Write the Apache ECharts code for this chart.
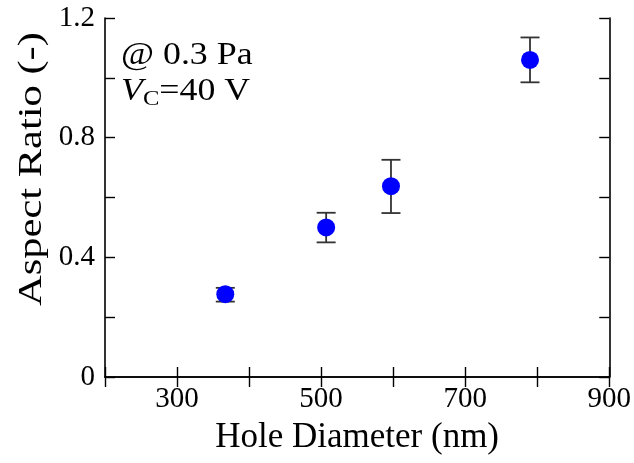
<!DOCTYPE html>
<html>
<head>
<meta charset="utf-8">
<script src="https://cdn.jsdelivr.net/npm/echarts@6/dist/echarts.min.js"></script>
<style>html,body{margin:0;padding:0;background:#fff;}#c{width:634px;height:463px;}</style>
</head>
<body>
<div id="c"></div>
<script>
var holeDiameter = [367, 507, 597, 790];
var aspectRatio = [0.277, 0.50, 0.638, 1.06];
var errLow = [0.252, 0.45, 0.548, 0.985];
var errHigh = [0.298, 0.549, 0.726, 1.135];
var xLabels = [300, 500, 700, 900];
var xTicks = [200, 300, 400, 500, 600, 700, 800, 900];
var yLabels = [0, 0.4, 0.8, 1.2];
var yTicks = [0, 0.2, 0.4, 0.6, 0.8, 1.0, 1.2];

var FONT = '"Liberation Serif", "Times New Roman", serif';
var chart = echarts.init(document.getElementById('c'));

var pts = holeDiameter.map(function (x, i) { return [x, aspectRatio[i]]; });
var errs = holeDiameter.map(function (x, i) { return [x, errLow[i], errHigh[i]]; });

function axisCommon(ticks) {
  return {
    axisLine: { show: true, lineStyle: { color: '#000', width: 1.6 } },
    axisTick: { show: true, inside: true, length: 10, customValues: ticks, lineStyle: { color: '#000', width: 1.4 } },
    splitLine: { show: false }
  };
}

function yFmt(v) {
  var r = Math.round(v * 10) / 10;
  return r === 0 ? '0' : r.toFixed(1);
}

var option = {
  animation: false,
  backgroundColor: '#fff',
  grid: { left: 105, right: 22, top: 18, bottom: 86, containLabel: false },
  xAxis: [
    Object.assign(axisCommon(xTicks), {
      type: 'value', min: 200, max: 900, interval: 100, position: 'bottom',
      name: 'Hole Diameter (nm)', nameLocation: 'middle', nameGap: 43,
      nameTextStyle: { fontFamily: FONT, fontSize: 35, color: '#000' },
      axisLabel: {
        fontFamily: FONT, fontSize: 29, color: '#000', margin: 8, hideOverlap: false,
        customValues: xLabels,
        formatter: function (v) { return String(Math.round(v)); }
      }
    }),
    Object.assign(axisCommon(xTicks), {
      type: 'value', min: 200, max: 900, interval: 100, position: 'top',
      axisLabel: { show: false }
    })
  ],
  yAxis: [
    Object.assign(axisCommon(yTicks), {
      type: 'value', min: 0, max: 1.2, interval: 0.2, position: 'left',
      axisLabel: {
        fontFamily: FONT, fontSize: 29, color: '#000', margin: 10, hideOverlap: false,
        customValues: yLabels,
        formatter: yFmt
      }
    }),
    Object.assign(axisCommon(yTicks), {
      type: 'value', min: 0, max: 1.2, interval: 0.2, position: 'right',
      axisLabel: { show: false }
    })
  ],
  graphic: [
    {
      type: 'text', x: 32, y: 169, rotation: Math.PI / 2, scaleX: 1.25,
      style: { text: 'Aspect Ratio (-)', fontFamily: FONT, fontSize: 34, fill: '#000', align: 'center', verticalAlign: 'middle' }
    },
    {
      type: 'text', x: 121, y: 40, scaleX: 1.12,
      style: { text: '@ 0.3 Pa', fontFamily: FONT, fontSize: 32, fill: '#000' }
    },
    {
      type: 'text', x: 121, y: 74, scaleX: 1.12,
      style: {
        text: '{v|V}{s|C}{n|=40 V}',
        rich: {
          v: { fontFamily: FONT, fontSize: 32, fontStyle: 'italic', fill: '#000' },
          s: { fontFamily: FONT, fontSize: 22, fill: '#000', verticalAlign: 'bottom', padding: [14, 0, 0, 0] },
          n: { fontFamily: FONT, fontSize: 32, fill: '#000' }
        }
      }
    }
  ],
  series: [
    {
      type: 'custom',
      xAxisIndex: 0, yAxisIndex: 0,
      data: errs,
      z: 2,
      renderItem: function (params, api) {
        var x = api.value(0);
        var lo = api.coord([x, api.value(1)]);
        var hi = api.coord([x, api.value(2)]);
        var w = 9.5;
        var st = { stroke: '#333', lineWidth: 1.8 };
        return {
          type: 'group',
          children: [
            { type: 'line', shape: { x1: lo[0], y1: lo[1], x2: hi[0], y2: hi[1] }, style: st },
            { type: 'line', shape: { x1: lo[0] - w, y1: lo[1], x2: lo[0] + w, y2: lo[1] }, style: st },
            { type: 'line', shape: { x1: hi[0] - w, y1: hi[1], x2: hi[0] + w, y2: hi[1] }, style: st }
          ]
        };
      }
    },
    {
      type: 'scatter',
      xAxisIndex: 0, yAxisIndex: 0,
      data: pts,
      symbol: 'circle',
      symbolSize: 18,
      z: 3,
      itemStyle: { color: '#0000ff', opacity: 1 }
    }
  ]
};
chart.setOption(option);
</script>
</body>
</html>
